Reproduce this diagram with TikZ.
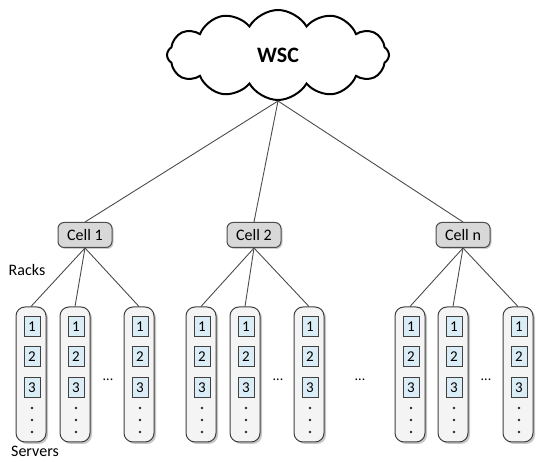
\documentclass[tikz,border=0pt]{standalone}
\usepackage{fontspec}
\setmainfont{Carlito}
\usetikzlibrary{shapes.symbols,shadows}
\definecolor{srvfill}{RGB}{218,236,246}
\definecolor{rackfill}{RGB}{244,244,244}
\definecolor{cellfill}{RGB}{216,216,216}
\tikzset{
  wire/.style={draw=black!70, line width=0.9pt},
  cellbox/.style={draw=black!70, fill=cellfill, rounded corners=6pt, line width=1pt,
     minimum width=54, minimum height=25, inner sep=0pt, font=\fontsize{16}{16}\selectfont,
     drop shadow={opacity=0.4, shadow xshift=1.5pt, shadow yshift=-1.5pt}},
  rackbox/.style={draw=black!75, fill=rackfill, rounded corners=9pt, line width=1pt,
     minimum width=30, minimum height=135, inner sep=0pt,
     drop shadow={opacity=0.45, shadow xshift=2pt, shadow yshift=-2pt}},
  srvbox/.style={draw=black!75, fill=srvfill, line width=1pt,
     minimum width=16, minimum height=20, inner sep=0pt, font=\fontsize{15}{15}\selectfont},
  lbl/.style={font=\fontsize{16}{16}\selectfont, inner sep=0pt},
  vdot/.style={circle, fill=black!85, inner sep=0pt, minimum size=2.8pt},
}
\begin{document}
\begin{tikzpicture}[x=1pt,y=-1pt]
\useasboundingbox (0,0) rectangle (550,462);
\node[cloud, draw=black, line width=2pt, fill=white, cloud puffs=12, cloud puff arc=120,
      cloud ignores aspect, minimum width=222, minimum height=90, inner sep=0pt,
      font=\bfseries\fontsize{22}{22}\selectfont] (wsc) at (278,55) {WSC};
\node[cellbox] (c1) at (85,235) {Cell 1};
\node[cellbox] (c2) at (254,235) {Cell 2};
\node[cellbox] (cn) at (463,235) {Cell n};
\foreach \c in {c1,c2,cn} \draw[wire] (wsc.south) -- (\c.north);
\node[lbl] (racks) at (27,270) {Racks};
\node[lbl] (servers) at (35,451) {Servers};
\foreach \cell/\xa/\xb/\xc/\xd in {c1/31/75/139/108, c2/201/245/309/278, cn/410/453/518/486}{
  \foreach \x/\i in {\xa/1,\xb/2,\xc/3}{
    \node[rackbox] (r-\cell-\i) at (\x,374.5) {};
    \draw[wire] (\cell.south) -- (r-\cell-\i.north);
    \node[srvbox] (s-\cell-\i-1) at (\x+1,327) {1};
    \node[srvbox] (s-\cell-\i-2) at (\x+1,357) {2};
    \node[srvbox] (s-\cell-\i-3) at (\x+1,388) {3};
    \node[vdot] (d-\cell-\i-1) at (\x+1,408) {};
    \node[vdot] (d-\cell-\i-2) at (\x+1,420) {};
    \node[vdot] (d-\cell-\i-3) at (\x+1,432) {};
  }
  \node[font=\fontsize{14}{14}\selectfont, inner sep=0pt] (e-\cell) at (\xd,380) {...};
}
\node[font=\fontsize{14}{14}\selectfont, inner sep=0pt] (egap) at (360,380) {...};
\end{tikzpicture}
\end{document}
